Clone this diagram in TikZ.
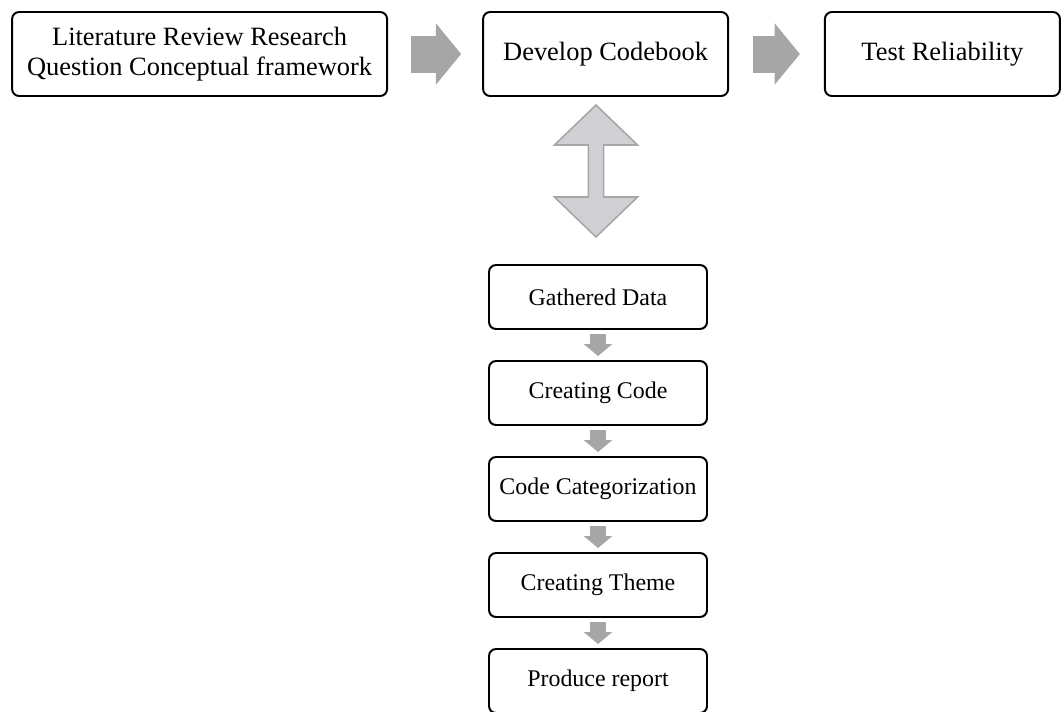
\documentclass[tikz,border=0pt]{standalone}
\usepackage{fontspec}
\setmainfont{Liberation Serif}
\usepackage{tikz}
\usetikzlibrary{arrows.meta, positioning}
\definecolor{flowgray}{HTML}{A6A6A6}
\definecolor{linkfill}{HTML}{D0CFD3}

\begin{document}
\begin{tikzpicture}[
    every node/.style={font=\fontsize{18.8}{21.5}\selectfont},
    stage/.style={rectangle, rounded corners=5pt, draw=black, line width=1.4pt,
                  minimum height=2.1cm, align=center, inner sep=2pt},
    substage/.style={stage, minimum width=5.45cm, minimum height=1.6cm,
                     font=\fontsize{17}{20}\selectfont},
    bigflow/.style={draw=flowgray, line width=0.925cm,
                    -{Triangle[length=0.63cm, width=1.5cm]}},
    smallflow/.style={draw=flowgray, line width=0.42cm,
                      -{Triangle[length=0.3cm, width=0.7cm]},
                      shorten <=0.1cm, shorten >=0.1cm},
    linkarrow/.style={draw=flowgray, fill=linkfill, line width=1.1pt},
  ]
  \useasboundingbox (0,0) rectangle (26.55,-17.775);

  % top row
  \node[stage, minimum width=9.375cm] (lit) at (4.99, -1.35)
    {Literature Review Research\\Question Conceptual framework};
  \node[stage, minimum width=6.125cm] (dev) at (15.14, -1.35) {Develop Codebook};
  \node[stage, minimum width=5.875cm] (test) at (23.56, -1.35) {Test Reliability};
  \draw[bigflow, shorten <=0.575cm, shorten >=0.525cm] (lit) -- (dev);
  \draw[bigflow, shorten <=0.6cm, shorten >=0.6cm] (dev) -- (test);

  % two-way link to the coding steps
  \coordinate (link) at (14.9, -4.275);
  \draw[linkarrow, shift={(link)}]
    (0,1.65) -- (1.04,0.65) -- (0.19,0.65) -- (0.19,-0.65) -- (1.04,-0.65)
    -- (0,-1.65) -- (-1.04,-0.65) -- (-0.19,-0.65) -- (-0.19,0.65)
    -- (-1.04,0.65) -- cycle;

  % coding steps
  \node[substage] (gath) at (14.95, -7.425) {Gathered Data};
  \node[substage] (code) at (14.95, -9.825) {Creating Code};
  \node[substage] (cat) at (14.95, -12.225) {Code Categorization};
  \node[substage] (theme) at (14.95, -14.625) {Creating Theme};
  \node[substage] (rep) at (14.95, -17.025) {Produce report};
  \draw[smallflow] (gath) -- (code);
  \draw[smallflow] (code) -- (cat);
  \draw[smallflow] (cat) -- (theme);
  \draw[smallflow] (theme) -- (rep);
\end{tikzpicture}
\end{document}
